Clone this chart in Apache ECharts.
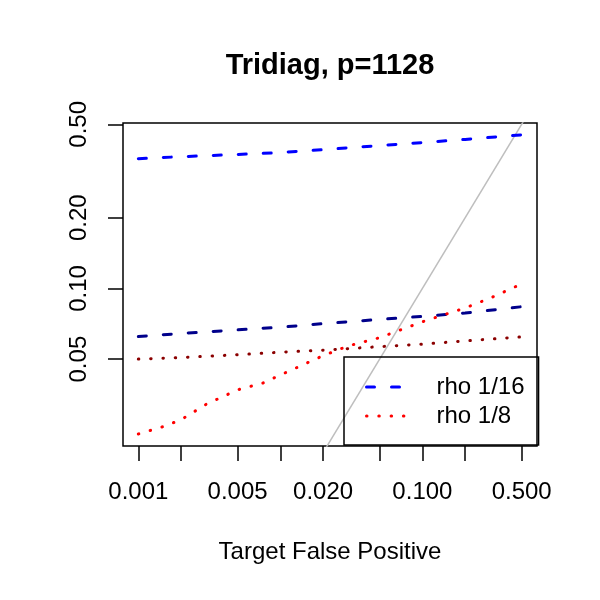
<!DOCTYPE html>
<html>
<head>
<meta charset="utf-8">
<script src="https://cdn.jsdelivr.net/npm/echarts@6/dist/echarts.min.js"></script>
<style>
  html, body { margin: 0; padding: 0; background: #fff; }
  #chart { width: 600px; height: 600px; }
</style>
</head>
<body>
<div id="chart"></div>
<script>
var fpr = [0.001, 0.002, 0.005, 0.01, 0.02, 0.05, 0.1, 0.2, 0.5];
var blue_16 = [0.357, 0.364, 0.372, 0.379, 0.390, 0.406, 0.418, 0.431, 0.451];
var navy_16 = [0.0624, 0.0643, 0.0666, 0.0684, 0.0708, 0.0738, 0.0760, 0.0786, 0.0836];
var darkred_8 = [0.0500, 0.0508, 0.0522, 0.0535, 0.0546, 0.0565, 0.0579, 0.0598, 0.0622];

var fpr_red = [0.001, 0.0015, 0.002, 0.003, 0.005, 0.0075, 0.01, 0.015, 0.02, 0.03, 0.05, 0.1, 0.2, 0.3, 0.5];
var red_8 = [0.0240, 0.0258, 0.0276, 0.0321, 0.0370, 0.0395, 0.0428, 0.0478, 0.0517, 0.0569, 0.0617, 0.0721, 0.0826, 0.0909, 0.1046];

var xTicks = [0.001, 0.002, 0.005, 0.01, 0.02, 0.05, 0.1, 0.2, 0.5];
var xLabels = [0.001, 0.005, 0.02, 0.1, 0.5];
var yTicks = [0.05, 0.1, 0.2, 0.5];

function pairs(xs, ys) {
  return xs.map(function (x, i) { return [x, ys[i]]; });
}

var font = 'Liberation Sans, Arial, sans-serif';
var dashed = [8, 17];
var dotted = [0.5, 11.8];

var option = {
  animation: false,
  title: {
    text: 'Tridiag, p=1128',
    left: 330,
    textAlign: 'center',
    top: 51,
    padding: 0,
    textStyle: { fontFamily: font, fontSize: 29, fontWeight: 'bold', color: '#000' }
  },
  grid: {
    left: 123, top: 123, width: 414, height: 323,
    show: true, borderColor: '#000', borderWidth: 1.5,
    outerBoundsMode: 'none'
  },
  legend: {
    data: ['rho 1/16', 'rho 1/8'],
    orient: 'vertical',
    left: 344, top: 357,
    padding: [18, 14, 17, 21],
    itemWidth: 40, itemHeight: 14, itemGap: 5,
    borderColor: '#000', borderWidth: 1.5,
    itemStyle: { opacity: 0 },
    lineStyle: { width: 3 },
    textStyle: { fontFamily: font, fontSize: 24, color: '#000', lineHeight: 24, padding: [0, 0, 0, 25] }
  },
  xAxis: {
    type: 'log',
    min: 0.00078, max: 0.641,
    name: 'Target False Positive',
    nameLocation: 'middle',
    nameGap: 94,
    nameTextStyle: { fontFamily: font, fontSize: 24, color: '#000' },
    axisLine: { show: false },
    axisTick: { show: true, inside: false, length: 15, customValues: xTicks, lineStyle: { color: '#000', width: 1.5 } },
    axisLabel: {
      customValues: xLabels, margin: 34,
      fontFamily: font, fontSize: 24, color: '#000',
      formatter: function (v) { return Number(v).toFixed(3); }
    },
    splitLine: { show: false },
    minorTick: { show: false }
  },
  yAxis: {
    type: 'log',
    min: 0.02133, max: 0.5064,
    axisLine: { show: false },
    axisTick: { show: true, inside: false, length: 15, customValues: yTicks, lineStyle: { color: '#000', width: 1.5 } },
    axisLabel: {
      customValues: yTicks, margin: 32, rotate: 90,
      fontFamily: font, fontSize: 24, color: '#000',
      formatter: function (v) { return Number(v).toFixed(2); }
    },
    splitLine: { show: false }
  },
  series: [
    {
      name: 'diagonal', type: 'line', symbol: 'none', silent: true,
      data: [[0.0001, 0.0001], [1, 1]],
      lineStyle: { color: '#BEBEBE', width: 1.5 }, clip: true
    },
    {
      name: 'rho 1/16', type: 'line', symbol: 'none',
      data: pairs(fpr, blue_16),
      itemStyle: { color: '#0000FF' },
      lineStyle: { color: '#0000FF', width: 3, type: dashed, cap: 'round' }
    },
    {
      name: 'rho 1/16 (b)', type: 'line', symbol: 'none',
      data: pairs(fpr, navy_16),
      itemStyle: { color: '#00008B' },
      lineStyle: { color: '#00008B', width: 3, type: dashed, cap: 'round' }
    },
    {
      name: 'rho 1/8', type: 'line', symbol: 'none',
      data: pairs(fpr_red, red_8),
      itemStyle: { color: '#FF0000' },
      lineStyle: { color: '#FF0000', width: 3, type: dotted, cap: 'round' }
    },
    {
      name: 'rho 1/8 (b)', type: 'line', symbol: 'none',
      data: pairs(fpr, darkred_8),
      itemStyle: { color: '#8B0000' },
      lineStyle: { color: '#8B0000', width: 3, type: dotted, cap: 'round' }
    }
  ]
};

echarts.init(document.getElementById('chart')).setOption(option);
</script>
</body>
</html>
